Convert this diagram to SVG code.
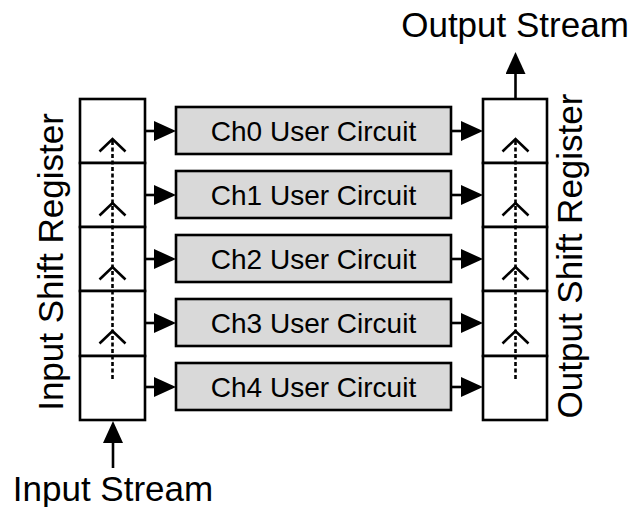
<svg xmlns="http://www.w3.org/2000/svg" width="634" height="507" viewBox="0 0 634 507">
<style>
.reg{fill:#ffffff;stroke:#000;stroke-width:2.6}
.box{fill:#d9d9d9;stroke:#000;stroke-width:2.6}
.lbl{font-family:"Liberation Sans",Arial,sans-serif;font-size:35px;fill:#000}
.ch{font-family:"Liberation Sans",Arial,sans-serif;font-size:28px;fill:#000;text-anchor:middle}
.conn{stroke:#000;stroke-width:2.6;fill:none}
.dash{stroke:#000;stroke-width:2.6;fill:none;stroke-dasharray:4 2.5}
.chev{stroke:#000;stroke-width:2.6;fill:none}
</style>
<defs>
<marker id="arr" markerUnits="userSpaceOnUse" markerWidth="22" markerHeight="20" refX="12" refY="10" orient="auto" viewBox="0 0 22 20">
<path d="M0,0 L22,10 L0,20 z" fill="#000"/>
</marker>
</defs>
<rect width="634" height="507" fill="#fff"/>

<g id="input-register">
<rect class="reg" x="80" y="99" width="65" height="64"/>
<rect class="reg" x="80" y="163" width="65" height="64"/>
<rect class="reg" x="80" y="227" width="65" height="64"/>
<rect class="reg" x="80" y="291" width="65" height="65"/>
<rect class="reg" x="80" y="356" width="65" height="64"/>
<line class="dash" x1="112.5" y1="141" x2="112.5" y2="381"/>
<path class="chev" d="M99.5,151.5 L112.5,139 L125.5,151.5 M99.5,215.5 L112.5,203 L125.5,215.5 M99.5,279.5 L112.5,267 L125.5,279.5 M99.5,343.5 L112.5,331 L125.5,343.5"/>
<text class="lbl" transform="translate(63,262) rotate(-90)" text-anchor="middle">Input Shift Register</text>
</g>

<g id="output-register">
<rect class="reg" x="483" y="99" width="64" height="64"/>
<rect class="reg" x="483" y="163" width="64" height="64"/>
<rect class="reg" x="483" y="227" width="64" height="64"/>
<rect class="reg" x="483" y="291" width="64" height="65"/>
<rect class="reg" x="483" y="356" width="64" height="64"/>
<line class="dash" x1="515.5" y1="141" x2="515.5" y2="381"/>
<path class="chev" d="M502.5,151.5 L515.5,139 L528.5,151.5 M502.5,215.5 L515.5,203 L528.5,215.5 M502.5,279.5 L515.5,267 L528.5,279.5 M502.5,343.5 L515.5,331 L528.5,343.5"/>
<text class="lbl" transform="translate(582,256) rotate(-90)" text-anchor="middle">Output Shift Register</text>
</g>

<g id="ch0"><rect class="box" x="176" y="107" width="275" height="47"/><text class="ch" x="313.5" y="140.5">Ch0 User Circuit</text></g>
<g id="ch1"><rect class="box" x="176" y="171" width="275" height="47"/><text class="ch" x="313.5" y="204.5">Ch1 User Circuit</text></g>
<g id="ch2"><rect class="box" x="176" y="235" width="275" height="47"/><text class="ch" x="313.5" y="268.5">Ch2 User Circuit</text></g>
<g id="ch3"><rect class="box" x="176" y="299" width="275" height="47"/><text class="ch" x="313.5" y="332.5">Ch3 User Circuit</text></g>
<g id="ch4"><rect class="box" x="176" y="363" width="275" height="47"/><text class="ch" x="313.5" y="396.5">Ch4 User Circuit</text></g>

<g id="input-stream"><text class="lbl" x="113" y="501" text-anchor="middle">Input Stream</text></g>
<g id="output-stream"><text class="lbl" x="515" y="37" text-anchor="middle">Output Stream</text></g>

<g id="connectors">
<line class="conn" x1="145" y1="131" x2="166" y2="131" marker-end="url(#arr)"/>
<line class="conn" x1="145" y1="195" x2="166" y2="195" marker-end="url(#arr)"/>
<line class="conn" x1="145" y1="259" x2="166" y2="259" marker-end="url(#arr)"/>
<line class="conn" x1="145" y1="323" x2="166" y2="323" marker-end="url(#arr)"/>
<line class="conn" x1="145" y1="387" x2="166" y2="387" marker-end="url(#arr)"/>
<line class="conn" x1="451" y1="131" x2="473" y2="131" marker-end="url(#arr)"/>
<line class="conn" x1="451" y1="195" x2="473" y2="195" marker-end="url(#arr)"/>
<line class="conn" x1="451" y1="259" x2="473" y2="259" marker-end="url(#arr)"/>
<line class="conn" x1="451" y1="323" x2="473" y2="323" marker-end="url(#arr)"/>
<line class="conn" x1="451" y1="387" x2="473" y2="387" marker-end="url(#arr)"/>
<line class="conn" x1="113" y1="468" x2="113" y2="431" marker-end="url(#arr)"/>
<line class="conn" x1="515.5" y1="99" x2="515.5" y2="62" marker-end="url(#arr)"/>
</g>
</svg>
